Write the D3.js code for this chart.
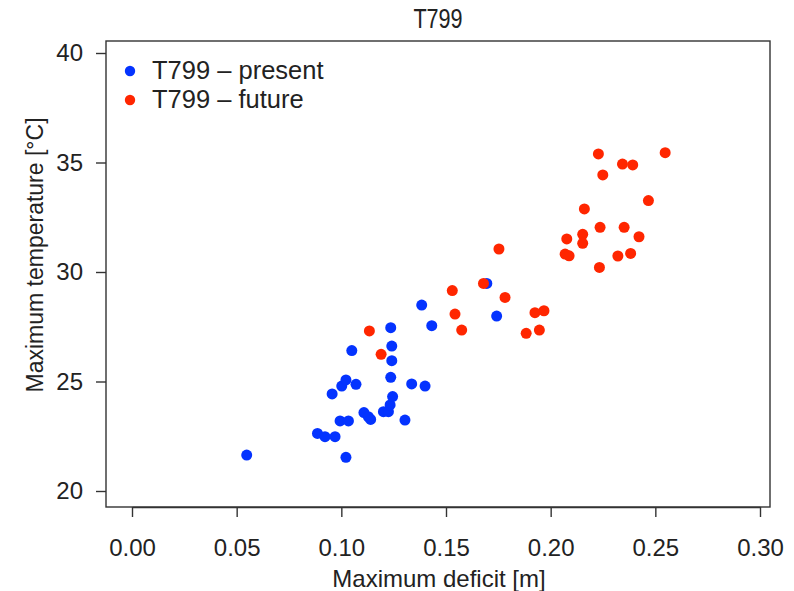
<!DOCTYPE html>
<html><head><meta charset="utf-8">
<script src="https://cdn.jsdelivr.net/npm/d3@7"></script>
<style>body{margin:0;background:#fff;} text{font-family:"Liberation Sans",Arial,Helvetica,sans-serif;fill:#222;}</style>
</head><body>
<svg id="c" width="794" height="591"></svg>
<script>
const title = "T799";
const xTicks = [0.00, 0.05, 0.10, 0.15, 0.20, 0.25, 0.30];
const yTicks = [20, 25, 30, 35, 40];
const presentX = [0.0548,0.1022,0.0886,0.0922,0.0970,0.0994,0.1034,0.1108,0.1129,0.1140,0.1201,0.1225,0.1233,0.1245,0.1304,0.0956,0.1002,0.1022,0.1070,0.1236,0.1336,0.1400,0.1050,0.1241,0.1241,0.1236,0.1384,0.1432,0.1742,0.1695];
const presentY = [21.64,21.54,22.63,22.48,22.48,23.20,23.20,23.58,23.39,23.27,23.62,23.62,23.93,24.31,23.24,24.43,24.79,25.07,24.87,25.19,24.89,24.79,26.41,25.95,26.62,27.46,28.49,27.55,27.99,29.48];
const futureX = [0.1134,0.1190,0.1530,0.1543,0.1575,0.1679,0.1782,0.1753,0.1883,0.1946,0.1925,0.1968,0.2228,0.2249,0.2343,0.2392,0.2547,0.2467,0.2161,0.2077,0.2153,0.2153,0.2236,0.2351,0.2422,0.2069,0.2088,0.2321,0.2382,0.2233];
const futureY = [27.31,26.24,29.15,28.08,27.35,29.48,28.84,31.05,27.20,27.35,28.14,28.23,35.39,34.43,34.93,34.89,35.45,33.26,32.88,31.51,31.72,31.31,32.04,32.04,31.61,30.82,30.74,30.73,30.85,30.21];
const seriesNames = ["T799 \u2013 present", "T799 \u2013 future"];
const colors = ["#0433ff", "#ff2600"];

const svg = d3.select("#c");
const box = {l:106, r:770, t:41, b:507};
const x = d3.scaleLinear().domain([0, 0.30]).range([132, 760]);
const y = d3.scaleLinear().domain([20, 40]).range([491, 53]);
const FONT = "'Liberation Sans',Arial,sans-serif";

// box
svg.append("rect").attr("x", box.l).attr("y", box.t).attr("width", box.r-box.l).attr("height", box.b-box.t)
  .attr("fill","none").attr("stroke","#333").attr("stroke-width",1.4);

// x axis
const xa = svg.append("g").attr("transform", `translate(0,${box.b})`)
  .call(d3.axisBottom(x).tickValues(xTicks).tickFormat(d3.format(".2f")).tickSize(10).tickSizeOuter(0).tickPadding(22));
xa.select(".domain").attr("stroke","#333").attr("stroke-width",1.4);
xa.selectAll(".tick line").attr("stroke","#333").attr("stroke-width",1.4);
xa.selectAll("text").style("font-size","24px").attr("fill","#222").style("font-family",FONT);

// y axis
const ya = svg.append("g").attr("transform", `translate(${box.l},0)`)
  .call(d3.axisLeft(y).tickValues(yTicks).tickSize(10).tickSizeOuter(0).tickPadding(13));
ya.select(".domain").remove();
ya.selectAll(".tick line").attr("stroke","#333").attr("stroke-width",1.4);
ya.selectAll("text").style("font-size","24px").attr("fill","#222").style("font-family",FONT);

// labels
svg.append("text").attr("transform","translate(438,28) scale(0.8,1)").attr("text-anchor","middle").style("font-size","27px").text(title);
svg.append("text").attr("x", 439).attr("y", 587).attr("text-anchor","middle").style("font-size","24px").text("Maximum deficit [m]");
svg.append("text").attr("transform","translate(43,255) rotate(-90)").attr("text-anchor","middle").style("font-size","23px").text("Maximum temperature [\u00B0C]");

// points
const series = [
  presentX.map((v,i)=>({x:v, y:presentY[i]})),
  futureX.map((v,i)=>({x:v, y:futureY[i]}))
];
series.forEach((s, k) => {
  svg.append("g").selectAll("circle").data(s).enter().append("circle")
    .attr("cx", d=>x(d.x)).attr("cy", d=>y(d.y)).attr("r", 5.5).attr("fill", colors[k]);
});

// legend
seriesNames.forEach((n, k) => {
  const yy = 71 + k*29;
  svg.append("circle").attr("cx", 130).attr("cy", yy).attr("r", 5.2).attr("fill", colors[k]);
  svg.append("text").attr("x", 152).attr("y", yy+8).style("font-size","25.5px").text(n);
});
</script>
</body></html>
